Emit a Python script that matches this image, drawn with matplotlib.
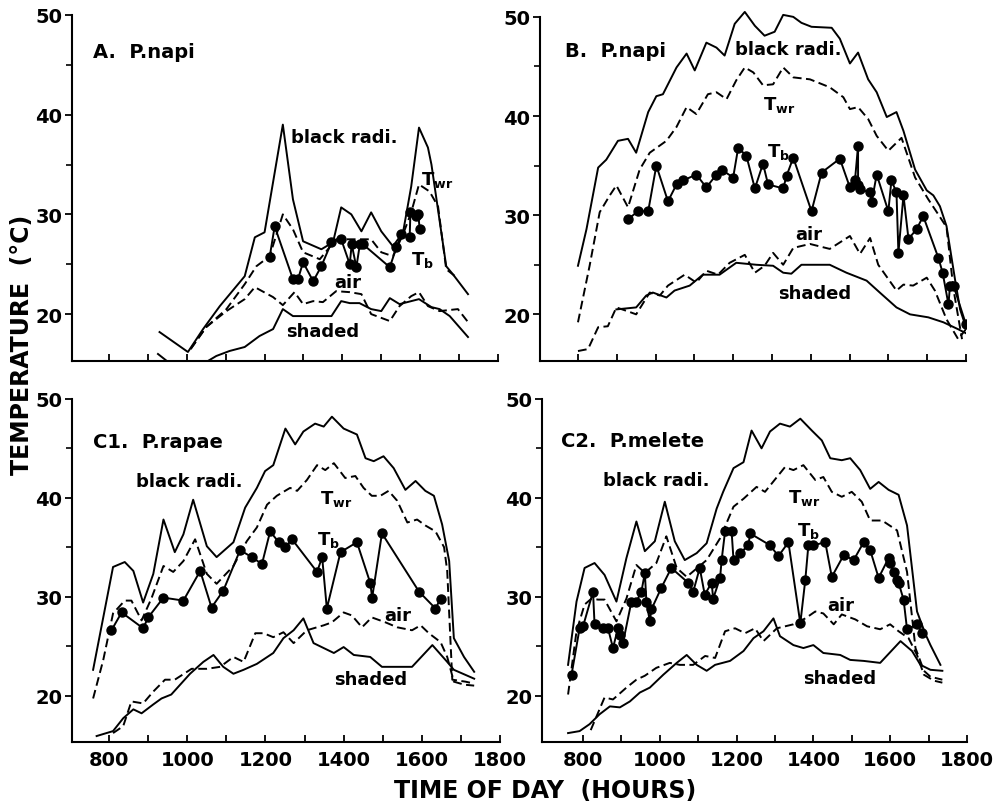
import numpy as np
import matplotlib
matplotlib.use("Agg")
import matplotlib.pyplot as plt
from matplotlib.ticker import MultipleLocator, FuncFormatter

plt.rcParams['font.family'] = ['DejaVu Sans']
plt.rcParams['mathtext.fontset'] = 'dejavusans'

# ---- panel A: P. napi ----
a_black_t = [930, 1003, 1042, 1085, 1149, 1175, 1200, 1247, 1273, 1299, 1346, 1376, 1397, 1423, 1449, 1474, 1500, 1530, 1556, 1577, 1597, 1620, 1629, 1667, 1684, 1723]
a_black_v = [18.2, 16.2, 18.5, 20.8, 23.8, 27.7, 28.2, 39.0, 31.5, 27.3, 26.5, 27.2, 30.7, 30.0, 28.3, 30.2, 28.3, 26.8, 28.2, 32.8, 38.7, 36.7, 35.0, 24.8, 24.0, 22.0]
a_twr_t = [1010, 1050, 1102, 1149, 1179, 1213, 1247, 1273, 1299, 1342, 1384, 1474, 1500, 1530, 1556, 1577, 1597, 1624, 1646, 1667, 1693]
a_twr_v = [16.5, 18.7, 20.5, 23.0, 24.8, 25.8, 30.0, 28.5, 26.2, 25.5, 27.5, 27.5, 26.2, 25.8, 28.0, 30.2, 33.0, 32.3, 30.8, 24.5, 23.7]
a_air_t = [1010, 1050, 1102, 1149, 1175, 1222, 1247, 1277, 1299, 1325, 1350, 1384, 1419, 1449, 1474, 1522, 1547, 1577, 1597, 1620, 1650, 1697, 1723]
a_air_v = [16.5, 18.7, 20.3, 21.5, 22.7, 21.7, 20.9, 22.2, 21.0, 21.3, 21.2, 22.3, 22.2, 22.0, 20.0, 19.3, 20.8, 21.8, 22.2, 20.8, 20.3, 20.5, 19.2]
a_shade_t = [926, 965, 1033, 1076, 1110, 1149, 1187, 1222, 1247, 1273, 1372, 1397, 1419, 1444, 1474, 1500, 1522, 1547, 1597, 1629, 1650, 1676, 1723]
a_shade_v = [16.0, 14.8, 14.8, 15.8, 16.3, 16.7, 17.8, 18.5, 20.5, 19.8, 19.8, 21.3, 21.1, 21.1, 20.5, 20.3, 21.6, 21.0, 21.5, 20.7, 20.5, 19.8, 17.7]
a_tb_t = [1213, 1226, 1273, 1286, 1299, 1325, 1346, 1372, 1397, 1419, 1424, 1436, 1445, 1453, 1522, 1539, 1552, 1573, 1575, 1590, 1595, 1599]
a_tb_v = [25.7, 28.8, 23.5, 23.5, 25.2, 23.3, 24.8, 27.2, 27.5, 25.0, 27.0, 24.7, 27.0, 27.0, 24.7, 26.7, 28.0, 27.7, 30.2, 29.8, 30.0, 28.5]

# ---- panel B: P. napi ----
b_black_t = [800, 822, 852, 873, 903, 929, 950, 981, 1002, 1019, 1054, 1080, 1101, 1131, 1157, 1178, 1204, 1230, 1256, 1281, 1307, 1329, 1355, 1376, 1402, 1454, 1475, 1501, 1522, 1548, 1570, 1596, 1621, 1639, 1669, 1699, 1716, 1733, 1750, 1772, 1785, 1800]
b_black_v = [24.9, 28.6, 34.8, 35.6, 37.5, 37.7, 36.3, 40.4, 42.0, 42.2, 44.9, 46.3, 44.6, 47.4, 46.9, 46.1, 49.3, 50.5, 49.1, 48.1, 48.5, 50.2, 50.0, 49.4, 49.0, 48.9, 47.8, 45.3, 46.4, 43.7, 42.4, 39.9, 40.4, 38.5, 34.6, 32.5, 32.0, 30.9, 28.9, 23.5, 20.5, 18.7]
b_twr_t = [800, 830, 856, 882, 899, 929, 959, 985, 1028, 1054, 1080, 1105, 1135, 1157, 1183, 1208, 1230, 1252, 1277, 1303, 1329, 1355, 1398, 1449, 1484, 1501, 1522, 1548, 1570, 1600, 1634, 1669, 1703, 1725, 1750, 1768, 1790]
b_twr_v = [19.2, 24.9, 30.3, 32.0, 33.0, 30.8, 34.6, 36.3, 37.5, 38.9, 40.9, 40.2, 42.2, 42.4, 41.7, 43.6, 44.9, 44.4, 43.1, 43.2, 44.9, 43.9, 43.7, 42.9, 41.9, 40.7, 40.9, 39.7, 38.0, 36.5, 37.8, 33.8, 31.6, 30.3, 28.8, 22.5, 17.5]
b_air_t = [800, 826, 852, 877, 899, 929, 950, 985, 1011, 1032, 1075, 1105, 1131, 1161, 1191, 1230, 1256, 1281, 1303, 1329, 1355, 1398, 1449, 1501, 1527, 1553, 1574, 1621, 1639, 1664, 1699, 1720, 1750, 1780, 1800]
b_air_v = [16.3, 16.5, 18.7, 18.8, 20.7, 20.3, 20.0, 22.2, 21.9, 22.9, 24.0, 23.2, 24.4, 24.0, 25.2, 26.0, 24.2, 24.9, 26.2, 25.0, 26.7, 27.1, 26.6, 27.9, 26.1, 27.7, 25.0, 22.4, 23.0, 22.9, 23.7, 22.4, 19.5, 17.5, 18.5]
b_shade_t = [899, 950, 976, 993, 1028, 1049, 1088, 1122, 1165, 1208, 1260, 1303, 1329, 1350, 1376, 1449, 1492, 1544, 1578, 1621, 1656, 1703, 1742, 1780, 1800]
b_shade_v = [20.5, 20.7, 21.9, 22.2, 21.7, 22.4, 22.9, 24.0, 24.0, 25.2, 25.0, 24.9, 24.2, 24.1, 25.0, 25.0, 24.2, 23.4, 22.2, 20.7, 20.0, 19.7, 19.2, 18.5, 18.1]
b_tb_t = [929, 955, 981, 1002, 1032, 1054, 1071, 1105, 1131, 1157, 1170, 1200, 1213, 1234, 1256, 1277, 1290, 1329, 1338, 1355, 1402, 1428, 1475, 1501, 1514, 1522, 1522, 1527, 1553, 1557, 1570, 1600, 1608, 1621, 1626, 1639, 1652, 1673, 1690, 1729, 1740, 1755, 1759, 1768, 1800]
b_tb_v = [29.6, 30.4, 30.4, 35.0, 31.4, 33.1, 33.5, 34.1, 32.8, 34.1, 34.6, 33.8, 36.8, 36.0, 32.7, 35.2, 33.1, 32.7, 34.0, 35.8, 30.4, 34.3, 35.7, 32.8, 33.5, 37.0, 33.0, 32.6, 32.3, 31.3, 34.1, 30.4, 33.5, 32.3, 26.2, 32.0, 27.6, 28.6, 29.9, 25.7, 24.2, 21.0, 22.9, 22.9, 19.0]

# ---- panel C1: P. rapae ----
c1_black_t = [759, 810, 840, 862, 887, 913, 939, 968, 990, 1015, 1050, 1075, 1118, 1148, 1178, 1199, 1220, 1251, 1276, 1297, 1327, 1349, 1370, 1400, 1434, 1456, 1477, 1502, 1528, 1558, 1584, 1609, 1631, 1652, 1670, 1682, 1708, 1734]
c1_black_v = [22.6, 33.0, 33.5, 32.6, 29.4, 32.3, 37.8, 34.5, 36.3, 39.8, 35.1, 34.0, 35.5, 39.0, 41.0, 42.7, 43.3, 47.0, 45.4, 46.7, 47.5, 47.2, 48.2, 47.0, 46.4, 44.0, 43.7, 44.2, 43.0, 40.8, 41.7, 40.7, 40.2, 37.3, 33.6, 25.8, 23.9, 22.4]
c1_twr_t = [759, 785, 810, 840, 857, 883, 908, 939, 964, 990, 1020, 1050, 1075, 1118, 1152, 1178, 1204, 1229, 1263, 1281, 1306, 1332, 1353, 1375, 1404, 1430, 1451, 1472, 1494, 1515, 1537, 1563, 1588, 1609, 1635, 1657, 1665, 1678, 1712, 1734]
c1_twr_v = [19.7, 23.6, 28.3, 29.6, 29.6, 27.6, 29.8, 33.1, 32.5, 33.6, 35.8, 32.3, 31.3, 33.1, 35.6, 37.0, 39.3, 40.2, 41.0, 40.7, 41.8, 43.3, 42.8, 43.5, 42.0, 42.2, 41.0, 40.2, 40.2, 40.7, 39.7, 37.5, 37.8, 37.2, 36.6, 35.0, 32.6, 21.6, 21.4, 21.2]
c1_air_t = [810, 836, 857, 887, 913, 943, 968, 1011, 1050, 1084, 1118, 1144, 1174, 1195, 1220, 1246, 1272, 1306, 1349, 1370, 1400, 1421, 1447, 1472, 1507, 1537, 1575, 1597, 1618, 1648, 1665, 1682, 1708, 1734]
c1_air_v = [16.2, 16.9, 19.4, 19.2, 20.4, 21.6, 21.6, 22.7, 22.7, 22.9, 23.9, 23.4, 26.3, 26.3, 25.9, 26.4, 25.3, 26.6, 27.1, 27.4, 28.4, 28.1, 26.9, 27.9, 27.4, 26.9, 26.6, 27.1, 26.3, 25.4, 23.9, 21.4, 21.1, 21.0]
c1_shade_t = [768, 810, 836, 862, 883, 913, 934, 959, 1007, 1041, 1067, 1092, 1118, 1144, 1178, 1220, 1246, 1272, 1297, 1323, 1349, 1375, 1400, 1426, 1468, 1498, 1528, 1575, 1627, 1665, 1682, 1734]
c1_shade_v = [15.9, 16.4, 17.7, 18.6, 18.2, 19.1, 19.7, 20.1, 22.2, 23.4, 24.1, 22.9, 22.2, 22.6, 23.2, 24.3, 25.8, 26.6, 27.8, 25.3, 24.8, 24.3, 24.9, 24.1, 23.9, 22.9, 22.9, 22.9, 25.1, 23.4, 22.6, 21.7]
c1_tb_t = [806, 832, 887, 900, 939, 990, 1033, 1062, 1092, 1135, 1165, 1191, 1212, 1234, 1251, 1268, 1332, 1345, 1357, 1392, 1434, 1468, 1473, 1498, 1593, 1635, 1648]
c1_tb_v = [26.6, 28.4, 26.8, 27.9, 29.9, 29.6, 32.6, 28.9, 30.6, 34.7, 34.0, 33.3, 36.6, 35.5, 35.0, 35.8, 32.5, 34.0, 28.8, 34.5, 35.5, 31.4, 29.9, 36.4, 30.5, 28.8, 29.8]

# ---- panel C2: P. melete ----
c2_black_t = [761, 783, 804, 830, 856, 887, 913, 939, 961, 987, 1013, 1039, 1065, 1096, 1122, 1148, 1165, 1192, 1218, 1239, 1265, 1287, 1313, 1339, 1366, 1396, 1422, 1444, 1474, 1496, 1522, 1548, 1570, 1596, 1622, 1644, 1670, 1692, 1705, 1731]
c2_black_v = [23.1, 29.5, 32.9, 33.4, 32.2, 29.5, 33.9, 37.6, 34.6, 35.6, 39.6, 35.6, 33.7, 34.4, 35.4, 38.9, 40.6, 43.0, 43.6, 46.8, 45.0, 46.7, 47.5, 47.2, 48.0, 46.8, 45.8, 44.0, 43.8, 44.0, 42.8, 40.9, 41.6, 40.8, 40.3, 37.2, 28.5, 26.2, 25.1, 23.1]
c2_twr_t = [761, 783, 804, 822, 839, 856, 887, 913, 939, 961, 991, 1017, 1044, 1070, 1122, 1157, 1192, 1218, 1252, 1274, 1326, 1348, 1374, 1405, 1426, 1448, 1474, 1500, 1526, 1548, 1579, 1618, 1644, 1666, 1688, 1705, 1736]
c2_twr_v = [20.1, 26.5, 29.2, 29.8, 29.7, 29.7, 27.5, 29.8, 33.2, 32.4, 33.4, 36.1, 32.9, 32.0, 33.7, 35.9, 39.1, 39.9, 41.1, 40.6, 43.1, 42.8, 43.3, 41.8, 42.1, 40.6, 40.1, 40.6, 39.6, 37.7, 37.7, 36.7, 32.5, 24.8, 22.5, 21.9, 21.6]
c2_air_t = [820, 856, 878, 913, 939, 961, 991, 1026, 1052, 1087, 1118, 1144, 1170, 1196, 1222, 1248, 1270, 1305, 1348, 1379, 1405, 1426, 1453, 1474, 1509, 1540, 1574, 1600, 1622, 1648, 1670, 1688, 1714, 1736]
c2_air_v = [16.5, 19.8, 19.6, 20.8, 21.6, 22.0, 22.8, 23.3, 23.1, 23.1, 24.0, 23.8, 26.5, 26.8, 26.3, 26.8, 25.5, 26.8, 27.2, 27.8, 28.5, 28.3, 27.2, 28.2, 27.7, 27.0, 26.7, 27.2, 26.5, 25.8, 24.1, 22.1, 21.5, 21.3]
c2_shade_t = [761, 791, 817, 843, 870, 896, 922, 948, 974, 1009, 1044, 1070, 1096, 1122, 1144, 1183, 1218, 1244, 1270, 1296, 1313, 1348, 1374, 1400, 1426, 1470, 1496, 1531, 1574, 1627, 1657, 1679, 1705, 1736]
c2_shade_v = [16.2, 16.4, 17.1, 18.1, 18.9, 18.8, 19.4, 20.3, 20.8, 22.1, 23.3, 24.1, 23.1, 22.5, 23.1, 23.5, 24.5, 25.8, 26.5, 27.8, 26.0, 25.1, 24.8, 25.1, 24.3, 24.1, 23.6, 23.5, 23.3, 25.5, 24.5, 23.1, 22.6, 22.5]
c2_tb_t = [770, 791, 800, 826, 830, 852, 865, 878, 891, 896, 904, 926, 939, 952, 961, 965, 974, 978, 1004, 1030, 1074, 1087, 1104, 1117, 1135, 1139, 1157, 1161, 1170, 1187, 1192, 1209, 1231, 1235, 1287, 1309, 1335, 1366, 1379, 1387, 1400, 1431, 1448, 1479, 1505, 1531, 1548, 1570, 1596, 1600, 1609, 1618, 1622, 1635, 1644, 1670, 1683]
c2_tb_v = [22.1, 26.8, 27.0, 30.5, 27.2, 26.8, 26.8, 24.8, 26.8, 26.1, 25.3, 29.5, 29.5, 30.5, 32.4, 29.5, 27.5, 28.7, 30.9, 32.9, 31.4, 30.5, 32.9, 30.2, 31.4, 29.8, 31.9, 33.7, 36.6, 36.6, 33.7, 34.4, 35.2, 36.4, 35.2, 34.1, 35.5, 27.3, 31.7, 35.2, 35.2, 35.5, 32.0, 34.2, 33.7, 35.5, 34.7, 31.9, 33.9, 33.4, 32.5, 31.7, 31.4, 29.7, 26.7, 27.2, 26.3]

panel_titles = ["A.  P.napi", "B.  P.napi", "C1.  P.rapae", "C2.  P.melete"]
y_ticks = [20, 30, 40, 50]
x_ticks = list(range(800, 1801, 100))

LW = 1.4
DASH = (0, (4.5, 2.3))


def draw_panel(ax, black, twr, air, shade, tb, xlo, labels, show_x):
    ax.plot(*black, color='black', lw=LW)
    ax.plot(*shade, color='black', lw=LW)
    ax.plot(*twr, color='black', lw=LW, linestyle=DASH)
    ax.plot(*air, color='black', lw=LW, linestyle=DASH)
    ax.plot(*tb, color='black', lw=LW, marker='o', markersize=6.5)

    ax.set_xlim(xlo, 1800)
    ax.set_ylim(15.3, 51)
    for s in ['top', 'right']:
        ax.spines[s].set_visible(False)
    ax.spines['left'].set_bounds(15.3, 50)
    ax.spines['left'].set_linewidth(1.5)
    ax.spines['bottom'].set_linewidth(1.5)

    ax.set_xticks(x_ticks)
    ax.set_yticks(y_ticks)
    ax.yaxis.set_minor_locator(MultipleLocator(5))
    ax.tick_params(axis='x', direction='in', length=5, width=1.3, pad=6,
                   labelsize=14)
    ax.tick_params(axis='y', which='major', direction='out', length=5,
                   width=1.3, pad=2, labelsize=14)
    ax.tick_params(axis='y', which='minor', direction='out', length=4, width=1.2)
    if show_x:
        ax.xaxis.set_major_formatter(
            FuncFormatter(lambda v, p: f"{int(v)}" if int(v) % 200 == 0 else ""))
    else:
        ax.set_xticklabels([])
    for lab in ax.get_xticklabels() + ax.get_yticklabels():
        lab.set_fontweight('bold')

    for txt, x, y, size in labels:
        ax.text(x, y, txt, fontsize=size, fontweight='bold', va='center', ha='left')


fig = plt.figure(figsize=(10.07, 8.04), dpi=100)
ax_a = fig.add_axes([0.0715, 0.5498, 0.4230, 0.4428])
ax_b = fig.add_axes([0.5362, 0.5498, 0.4230, 0.4403])
ax_c1 = fig.add_axes([0.0715, 0.0759, 0.4250, 0.4390])
ax_c2 = fig.add_axes([0.5382, 0.0759, 0.4220, 0.4390])

twr_lab = r'T$_\mathbf{wr}$'
tb_lab = r'T$_\mathbf{b}$'

draw_panel(ax_a, (a_black_t, a_black_v), (a_twr_t, a_twr_v), (a_air_t, a_air_v),
           (a_shade_t, a_shade_v), (a_tb_t, a_tb_v), 705,
           [(panel_titles[0], 759, 46.3, 14), ("black radi.", 1269, 37.8, 13),
            (twr_lab, 1603, 33.5, 13), (tb_lab, 1577, 25.5, 13),
            ("air", 1380, 23.2, 13), ("shaded", 1256, 18.3, 13)], False)
draw_panel(ax_b, (b_black_t, b_black_v), (b_twr_t, b_twr_v), (b_air_t, b_air_v),
           (b_shade_t, b_shade_v), (b_tb_t, b_tb_v), 702,
           [(panel_titles[1], 766, 46.6, 14), ("black radi.", 1204, 46.8, 13),
            (twr_lab, 1277, 41.2, 13), (tb_lab, 1286, 36.5, 13),
            ("air", 1359, 28.1, 13), ("shaded", 1316, 22.2, 13)], False)
draw_panel(ax_c1, (c1_black_t, c1_black_v), (c1_twr_t, c1_twr_v), (c1_air_t, c1_air_v),
           (c1_shade_t, c1_shade_v), (c1_tb_t, c1_tb_v), 705,
           [(panel_titles[2], 759, 45.7, 14), ("black radi.", 870, 41.7, 13),
            (twr_lab, 1340, 40.0, 13), (tb_lab, 1332, 35.8, 13),
            ("air", 1503, 28.1, 13), ("shaded", 1375, 21.7, 13)], True)
draw_panel(ax_c2, (c2_black_t, c2_black_v), (c2_twr_t, c2_twr_v), (c2_air_t, c2_air_v),
           (c2_shade_t, c2_shade_v), (c2_tb_t, c2_tb_v), 693,
           [(panel_titles[3], 743, 45.8, 14), ("black radi.", 852, 41.8, 13),
            (twr_lab, 1335, 40.1, 13), (tb_lab, 1357, 36.7, 13),
            ("air", 1435, 29.2, 13), ("shaded", 1374, 21.8, 13)], True)

fig.text(0.022, 0.571, "TEMPERATURE  (°C)", rotation=90, fontsize=17,
         fontweight='bold', ha='center', va='center')
fig.text(0.541, 0.016, "TIME OF DAY  (HOURS)", fontsize=17, fontweight='bold',
         ha='center', va='center')

fig.savefig("out.png", dpi=100)
